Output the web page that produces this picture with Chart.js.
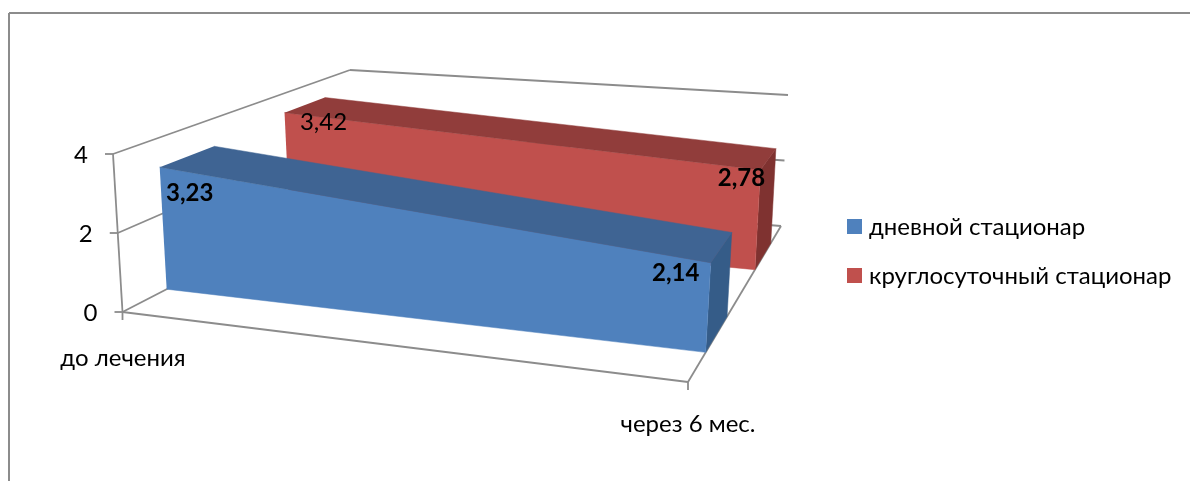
<!DOCTYPE html>
<html lang="ru">
<head>
<meta charset="utf-8">
<title>Диаграмма</title>
<script src="https://cdn.jsdelivr.net/npm/chart.js@4/dist/chart.umd.min.js"></script>
<style>
  html, body { margin: 0; padding: 0; background: #fff; }
  canvas { display: block; }
</style>
</head>
<body>
<canvas id="chart" width="1190" height="481"></canvas>
<script>
// --- DATA ---
const categories = ['до лечения', 'через 6 мес.'];
const seriesNames = ['дневной стационар', 'круглосуточный стационар'];
const dayValues = [3.23, 2.14];
const nightValues = [3.42, 2.78];
const yTicks = [0, 2, 4];

// --- STYLE ---
const FONT = 'Lato, "Open Sans", sans-serif';
const AXIS_COLOR = '#8c8c8c';
const TEXT_COLOR = '#000';
const dayColors = { front: '#4f81bd', top: '#3f6493', side: '#355c88' };
const nightColors = { front: '#c0504d', top: '#913d3b', side: '#7f3230' };

// Corners of the 3D box on screen: [front/back][left/right], at value 0 and at value 4
const box = {
  floor: { fl: [122.5, 312], fr: [688, 382], bl: [355, 192], br: [781, 226] },
  roof: { fl: [113, 154], fr: [698, 206], bl: [350, 70], br: [788, 95] }
};
const yMax = 4;

// u: 0..1 along the categories, d: 0..1 into the depth, v: value. Trilinear blend of the box corners
function project(u, d, v) {
  const mix = (a, b, t) => a + (b - a) * t;
  const plane = (p, i) => mix(mix(p.fl[i], p.fr[i], u), mix(p.bl[i], p.br[i], u), d);
  const t = v / yMax;
  return { x: mix(plane(box.floor, 0), plane(box.roof, 0), t), y: mix(plane(box.floor, 1), plane(box.roof, 1), t) };
}

// One dataset per visible face of a ribbon
function faces(values, d0, d1, colors) {
  const [a, b] = values;
  const front = [project(0, d0, a), project(1, d0, b), project(1, d0, 0), project(0, d0, 0)];
  const top = [project(0, d0, a), project(1, d0, b), project(1, d1, b), project(0, d1, a)];
  const side = [project(1, d0, b), project(1, d1, b), project(1, d1, 0), project(1, d0, 0)];
  return [[side, colors.side], [front, colors.front], [top, colors.top]];
}

// Back ribbon first so the front one paints over it
const layers = [...faces(nightValues, 0.72, 0.89, nightColors), ...faces(dayValues, 0.19, 0.42, dayColors)];
const datasets = layers.map(([points, color], i) => ({
  data: points,
  order: layers.length - i,
  showLine: true,
  fill: 'shape',
  tension: 0,
  pointRadius: 0,
  borderWidth: 0.5,
  borderColor: color,
  backgroundColor: color,
  clip: false
}));

function line(ctx, from, to) {
  ctx.beginPath();
  ctx.moveTo(from.x, from.y);
  ctx.lineTo(to.x, to.y);
  ctx.stroke();
}

function text(ctx, str, x, y, font, align = 'center') {
  ctx.font = font;
  ctx.fillStyle = TEXT_COLOR;
  ctx.textAlign = align;
  ctx.textBaseline = 'middle';
  ctx.fillText(str, x, y);
}

// Outer frame, walls, floor and tick marks go under the ribbons
const wallsPlugin = {
  id: 'walls',
  beforeDatasetsDraw(chart) {
    const { ctx, width, height } = chart;
    ctx.save();
    ctx.strokeStyle = AXIS_COLOR;
    ctx.lineWidth = 2;
    line(ctx, { x: 9, y: height }, { x: 9, y: 13 });
    line(ctx, { x: 9, y: 13 }, { x: width, y: 13 });

    ctx.lineWidth = 1.8;
    // value axis on the front left edge
    line(ctx, project(0, 0, 0), project(0, 0, yMax));
    // gridlines running along the left and back walls
    yTicks.forEach(tick => {
      line(ctx, project(0, 0, tick), project(0, 1, tick));
      line(ctx, project(0, 1, tick), project(1, 1, tick));
      const p = project(0, 0, tick);
      line(ctx, p, { x: p.x - 8, y: p.y });
    });
    // floor edges
    line(ctx, project(0, 0, 0), project(1, 0, 0));
    line(ctx, project(1, 0, 0), project(1, 1, 0));
    // category ticks
    categories.forEach((_, i) => {
      const p = project(i, 0, 0);
      line(ctx, p, { x: p.x, y: p.y + 8 });
    });
    ctx.restore();
  }
};

// Tick labels, value labels and the legend on top of everything
const labelOffsets = [
  [[30, 26], [-35, 10]],
  [[39, 10], [-19, 8]]
];
const labelBold = [[true, true], [false, true]];
const depthFront = [0.19, 0.72];

const textPlugin = {
  id: 'texts',
  afterDatasetsDraw(chart) {
    const { ctx } = chart;
    ctx.save();
    const regular = `24px ${FONT}`;
    const bold = `bold 24px ${FONT}`;

    yTicks.forEach(tick => {
      const p = project(0, 0, tick);
      text(ctx, String(tick), p.x - 32, p.y + 1, regular);
    });
    text(ctx, categories[0], 123, 358, regular);
    text(ctx, categories[1], 688, 424, regular);

    [dayValues, nightValues].forEach((values, s) => {
      values.forEach((value, i) => {
        const p = project(i, depthFront[s], value);
        const [dx, dy] = labelOffsets[s][i];
        const label = String(value).replace('.', ',');
        text(ctx, label, p.x + dx, p.y + dy, labelBold[s][i] ? bold : regular);
      });
    });

    // legend
    [dayColors.front, nightColors.front].forEach((color, i) => {
      const y = 219 + i * 49;
      ctx.fillStyle = color;
      ctx.fillRect(847, y, 15, 15);
      text(ctx, seriesNames[i], 869, y + 8, regular, 'left');
    });
    ctx.restore();
  }
};

new Chart(document.getElementById('chart'), {
  type: 'scatter',
  data: { datasets },
  plugins: [wallsPlugin, textPlugin],
  options: {
    responsive: false,
    animation: false,
    layout: { padding: 0 },
    plugins: { legend: { display: false }, tooltip: { enabled: false } },
    scales: {
      x: { type: 'linear', display: false, min: 0, max: 1190 },
      y: { type: 'linear', display: false, min: 0, max: 481, reverse: true }
    }
  }
});
</script>
</body>
</html>
